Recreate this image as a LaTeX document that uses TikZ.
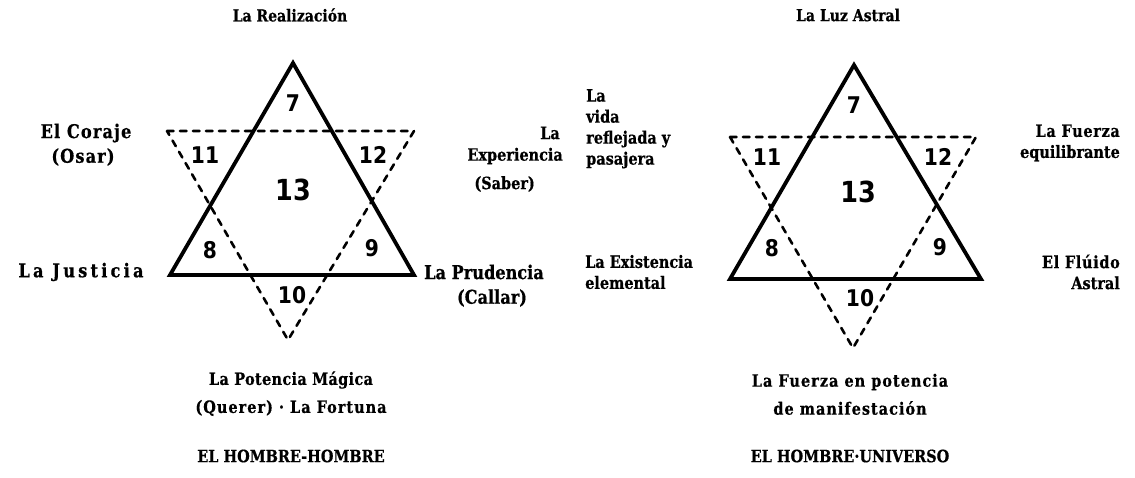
\documentclass[tikz,border=0pt]{standalone}
\usepackage{fontspec}
\setmainfont{DejaVu Serif}
\newfontfamily\lblfont{DejaVu Serif Bold}[FakeStretch=0.85, FakeBold=0.6]
\newfontfamily\numfont{DejaVu Sans Bold}[FakeStretch=0.88]
\begin{document}
\begin{tikzpicture}[x=1pt,y=-1pt,
  lbl/.style={inner sep=0pt, font=\lblfont\fontsize{17}{21}\selectfont},
  biglbl/.style={inner sep=0pt, font=\lblfont\fontsize{19}{25}\selectfont},
  smalllbl/.style={inner sep=0pt, font=\lblfont\fontsize{16.5}{19.5}\selectfont},
  caption/.style={inner sep=0pt, font=\lblfont\fontsize{17}{18}\selectfont},
  num/.style={inner sep=0pt, font=\numfont\fontsize{23}{23}\selectfont},
  bignum/.style={inner sep=0pt, font=\numfont\fontsize{29}{29}\selectfont},
  solidtri/.style={line width=3.8pt, line join=miter, line cap=round},
  dashtri/.style={line width=2.6pt, dash pattern=on 6.5pt off 6.5pt, line cap=round}]
\useasboundingbox (0,0) rectangle (1135,477);
% ---------- left figure ----------
\coordinate (A1) at (293,63);
\coordinate (B1) at (170,275);
\coordinate (C1) at (414,275);
\coordinate (D1) at (167,131);
\coordinate (E1) at (414,131);
\coordinate (F1) at (288,340);
\draw[dashtri] (D1) -- (E1) -- (F1) -- cycle;
\draw[solidtri] (A1) -- (B1) -- (C1) -- cycle;
\node[num] (n7a) at (293,103) {7};
\node[num] (n11a) at (205,155) {11};
\node[num] (n12a) at (373,155) {12};
\node[bignum] (n13a) at (293,190) {13};
\node[num] (n8a) at (210,250) {8};
\node[num] (n9a) at (372,248) {9};
\node[num] (n10a) at (292,295) {10};
\node[smalllbl] (realiz) at (290,15) {La Realización};
\node[biglbl] (coraje) at (86,133) {\addfontfeature{LetterSpace=6}El Coraje};
\node[biglbl] (osar) at (83,157) {\addfontfeature{LetterSpace=6}(Osar)};
\node[biglbl] (justicia) at (81,272) {\addfontfeature{LetterSpace=17}La Justicia};
\node[biglbl] (prudencia) at (484,272) {La Prudencia};
\node[biglbl] (callar) at (492,298) {(Callar)};
\node[lbl, anchor=east] (expLa) at (560,133) {La};
\node[lbl, anchor=east] (expEx) at (563,156) {Experiencia};
\node[lbl, anchor=east] (expSa) at (535,184) {(Saber)};
\node[lbl] (potencia) at (291,380) {\addfontfeature{LetterSpace=2}La Potencia Mágica};
\node[lbl] (fortuna) at (291,408) {\addfontfeature{LetterSpace=6}(Querer) · La Fortuna};
\node[caption] (hh) at (291,456) {EL HOMBRE-HOMBRE};
% ---------- right figure ----------
\coordinate (A2) at (854,65);
\coordinate (B2) at (730,279);
\coordinate (C2) at (981,279);
\coordinate (D2) at (730,137);
\coordinate (E2) at (976,137);
\coordinate (F2) at (853,348);
\draw[dashtri] (D2) -- (E2) -- (F2) -- cycle;
\draw[solidtri] (A2) -- (B2) -- (C2) -- cycle;
\node[num] (n7b) at (854,105) {7};
\node[num] (n11b) at (767,157) {11};
\node[num] (n12b) at (938,157) {12};
\node[bignum] (n13b) at (858,192) {13};
\node[num] (n8b) at (772,248) {8};
\node[num] (n9b) at (940,247) {9};
\node[num] (n10b) at (860,298) {10};
\node[smalllbl] (luz) at (848,15) {La Luz Astral};
\node[lbl, align=left, anchor=north west] (vida) at (586,89) {La\\vida\\reflejada y\\pasajera};
\node[lbl, align=left, anchor=west] (exist) at (585,272) {La Existencia\\elemental};
\node[lbl, align=right, anchor=east] (fuerzaeq) at (1120,143) {\addfontfeature{LetterSpace=4}La Fuerza\\equilibrante};
\node[lbl, align=right, anchor=east] (fluido) at (1120,272) {\addfontfeature{LetterSpace=4}El Flúido\\Astral};
\node[lbl] (fuerzapot) at (850,382) {\addfontfeature{LetterSpace=6}La Fuerza en potencia};
\node[lbl] (manif) at (850,408) {\addfontfeature{LetterSpace=6}de manifestación};
\node[caption] (hu) at (850,456) {EL HOMBRE·UNIVERSO};
\end{tikzpicture}
\end{document}
